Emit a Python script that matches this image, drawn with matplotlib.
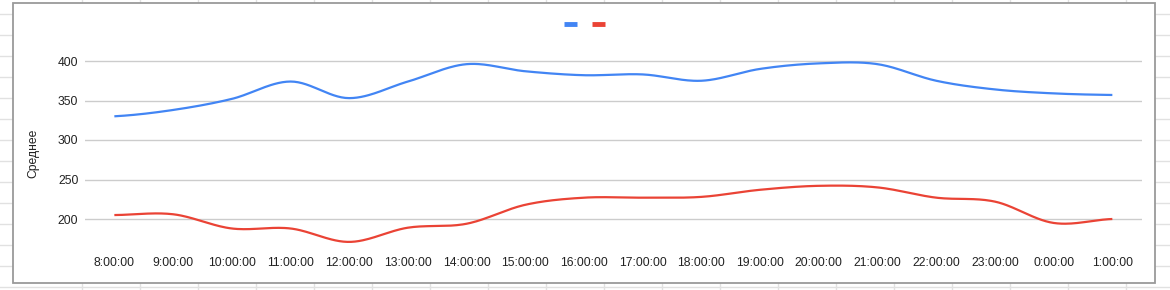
import numpy as np
import matplotlib
matplotlib.use("Agg")
import matplotlib.pyplot as plt
from matplotlib.lines import Line2D
from matplotlib.patches import Rectangle

# ---- data ----
categories = ["8:00:00", "9:00:00", "10:00:00", "11:00:00", "12:00:00", "13:00:00",
              "14:00:00", "15:00:00", "16:00:00", "17:00:00", "18:00:00", "19:00:00",
              "20:00:00", "21:00:00", "22:00:00", "23:00:00", "0:00:00", "1:00:00"]
series_blue = [330, 338, 352, 374, 353, 374, 396, 387, 382, 383, 375, 390,
               397, 396, 375, 364, 359, 357]
series_red = [205, 206, 188, 188, 171, 189, 194, 218, 227, 227, 228, 237,
              242, 240, 227, 222, 195, 200]
yticks = [200, 250, 300, 350, 400]
y_title = "Среднее"

W, H = 1170, 290
DPI = 100
plt.rcParams['font.family'] = ['Liberation Sans', 'DejaVu Sans']

fig = plt.figure(figsize=(W / DPI, H / DPI), dpi=DPI)
fig.patch.set_facecolor("white")

def fx(px):
    return px / W

def fy(py):
    return 1 - py / H

# spreadsheet background grid (outside chart)
gcol = "#e1e1e1"
for x in np.arange(82.3, 1170, 58.0):
    fig.add_artist(Line2D([fx(x), fx(x)], [0, 1], color=gcol, lw=1, zorder=0))
for y in np.arange(14, 295, 21.0):
    fig.add_artist(Line2D([0, 1], [fy(y), fy(y)], color=gcol, lw=1, zorder=0))

# chart frame
fig.add_artist(Rectangle((fx(13.3), fy(282.5)), fx(1155.3 - 13.3), (282.5 - 3.3) / H,
                         facecolor="white", edgecolor="#9a9a9a", lw=1.3, zorder=1))

# axes placement in pixels
L, R, T, B = 85.0, 1141.7, 22.0, 250.0
ax = fig.add_axes([fx(L), fy(B), fx(R - L), (B - T) / H], zorder=2)
ax.set_facecolor("none")

def pix2val(py):
    return 200 + (219.0 - py) / 0.79

ax.set_ylim(pix2val(B), pix2val(T))
ax.set_xlim(-0.5, len(categories) - 0.5)

def smooth(xs, ys, k=0.5, n=30):
    xs = np.asarray(xs, float)
    ys = np.asarray(ys, float)
    m = np.zeros_like(ys)
    m[1:-1] = (ys[2:] - ys[:-2]) / 2 * (2 * k)
    m[0] = (ys[1] - ys[0]) * k
    m[-1] = (ys[-1] - ys[-2]) * k
    ox, oy = [], []
    for i in range(len(xs) - 1):
        t = np.linspace(0, 1, n, endpoint=False)
        h00 = 2 * t**3 - 3 * t**2 + 1
        h10 = t**3 - 2 * t**2 + t
        h01 = -2 * t**3 + 3 * t**2
        h11 = t**3 - t**2
        ox.extend(xs[i] + t * (xs[i + 1] - xs[i]))
        oy.extend(h00 * ys[i] + h10 * m[i] + h01 * ys[i + 1] + h11 * m[i + 1])
    ox.append(xs[-1])
    oy.append(ys[-1])
    return np.array(ox), np.array(oy)

xs = np.arange(len(categories))
bx, by = smooth(xs, series_blue)
rx, ry = smooth(xs, series_red)
ax.plot(bx, by, color="#4285F4", lw=1.6, solid_capstyle="butt", zorder=3)
ax.plot(rx, ry, color="#EA4335", lw=1.6, solid_capstyle="butt", zorder=3)

ax.set_yticks(yticks)
ax.set_xticks(xs)
ax.set_xticklabels(categories)
ax.grid(axis="y", color="#cccccc", lw=1)
ax.grid(axis="x", visible=False)
ax.set_axisbelow(True)
for s in ax.spines.values():
    s.set_visible(False)
ax.tick_params(axis="both", length=0, labelsize=8.7, colors="#222222")
ax.tick_params(axis="y", pad=4.8)
ax.tick_params(axis="x", pad=5)

fig.text(fx(33.5), fy(153.5), y_title, rotation=90, ha="center", va="center",
         fontsize=8.7, color="#222222")

# legend (empty labels, only colored dashes)
fig.add_artist(Line2D([fx(564.3), fx(576.7)], [fy(23.7), fy(23.7)], color="#4285F4",
                      lw=3.5, solid_capstyle="butt", zorder=4))
fig.add_artist(Line2D([fx(592.3), fx(604.7)], [fy(23.7), fy(23.7)], color="#EA4335",
                      lw=3.5, solid_capstyle="butt", zorder=4))

fig.savefig("out.png", dpi=DPI, facecolor="white")
